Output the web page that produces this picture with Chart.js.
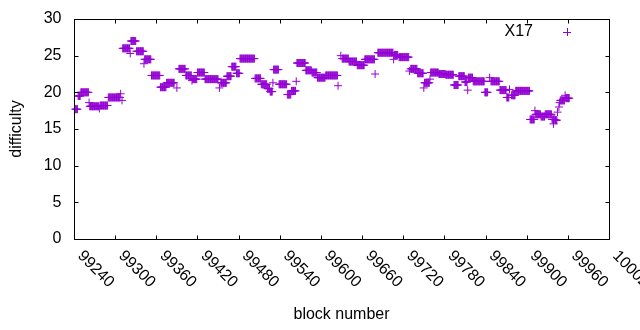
<!DOCTYPE html>
<html>
<head>
<meta charset="utf-8">
<script src="https://cdn.jsdelivr.net/npm/chart.js@4.4.1/dist/chart.umd.min.js"></script>
<style>
  html, body { margin: 0; padding: 0; background: #fff; }
  #wrap { width: 640px; height: 330px; }
</style>
</head>
<body>
<div id="wrap"><canvas id="diffChart"></canvas></div>
<script>
// Difficulty read off the plot as runs of blocks sharing the same value
// (start block, end block, difficulty); single blocks have start == end.
const runStart = [99242, 99246, 99250, 99262, 99263, 99277, 99278, 99290, 99308, 99310,
  99311, 99322, 99323, 99331, 99342, 99343, 99353, 99366, 99375, 99390,
  99393, 99403, 99412, 99413, 99420, 99431, 99452, 99454, 99463, 99470,
  99477, 99482, 99504, 99513, 99522, 99526, 99530, 99531, 99539, 99551,
  99557, 99564, 99565, 99578, 99587, 99595, 99607, 99625, 99629, 99631,
  99641, 99653, 99664, 99679, 99683, 99706, 99707, 99714, 99729, 99731,
  99741, 99750, 99751, 99759, 99760, 99772, 99782, 99794, 99801, 99810,
  99814, 99815, 99822, 99839, 99846, 99848, 99861, 99871, 99875, 99878,
  99884, 99905, 99912, 99913, 99921, 99927, 99937, 99939, 99942, 99945,
  99947, 99948, 99949, 99956, 99957];
const runEnd = [99245, 99249, 99261, 99262, 99276, 99277, 99289, 99307, 99308, 99310,
  99321, 99322, 99330, 99341, 99342, 99352, 99365, 99374, 99386, 99390,
  99402, 99411, 99412, 99419, 99430, 99450, 99452, 99462, 99469, 99476,
  99481, 99503, 99512, 99521, 99525, 99529, 99530, 99538, 99550, 99556,
  99563, 99564, 99577, 99586, 99594, 99606, 99624, 99625, 99629, 99640,
  99652, 99663, 99678, 99679, 99705, 99706, 99712, 99728, 99729, 99740,
  99749, 99750, 99758, 99759, 99771, 99781, 99793, 99800, 99809, 99813,
  99814, 99821, 99838, 99843, 99846, 99860, 99870, 99874, 99875, 99883,
  99904, 99911, 99912, 99920, 99926, 99936, 99941, 99939, 99944, 99945,
  99947, 99948, 99955, 99956, 99962];
const runDiff = [17.7, 19.5, 20.0, 18.6, 18.1, 17.8, 18.2, 19.3, 19.8, 18.9,
  26.0, 25.3, 27.0, 25.6, 23.9, 24.5, 22.3, 20.7, 21.3, 20.6,
  23.2, 22.3, 21.6, 21.8, 22.7, 21.8, 20.6, 21.3, 22.2, 23.5,
  22.6, 24.6, 21.9, 21.1, 20.5, 20.1, 21.3, 23.1, 21.1, 19.7,
  20.2, 21.5, 24.0, 23.0, 22.7, 22.0, 22.3, 20.9, 25.0, 24.6,
  24.2, 23.7, 24.5, 22.5, 25.4, 24.5, 25.1, 24.8, 22.9, 23.2,
  22.6, 20.6, 21.3, 21.8, 22.7, 22.5, 22.4, 21.0, 22.2, 21.4,
  20.3, 22.0, 21.5, 20.0, 22.0, 21.5, 20.3, 19.3, 20.4, 19.6,
  20.2, 16.3, 17.5, 17.0, 16.7, 17.0, 16.3, 15.7, 16.2, 17.3,
  18.0, 18.6, 18.9, 19.6, 19.2];

const seriesLabel = 'X17';
const xTicks = [99240, 99300, 99360, 99420, 99480, 99540, 99600, 99660, 99720, 99780, 99840, 99900, 99960, 100020];
const yTicks = [0, 5, 10, 15, 20, 25, 30];

const PURPLE = '#9400d3';
const FONT = '16px "Liberation Sans", Arial, sans-serif';

// one point per block inside each run
const points = [];
runStart.forEach((s, i) => {
  for (let b = s; b <= runEnd[i]; b++) points.push({ x: b, y: runDiff[i] });
});

// gnuplot-like frame: border, inward ticks on all sides, rotated labels, titles, key
const gnuplotFrame = {
  id: 'gnuplotFrame',
  afterDraw(chart) {
    const { ctx, chartArea: a, scales: { x, y } } = chart;
    const L = Math.round(a.left) + 0.5, R = Math.round(a.right) + 0.5;
    const T = Math.round(a.top) + 0.5, B = Math.round(a.bottom) + 0.5;
    ctx.save();
    ctx.strokeStyle = '#000';
    ctx.lineWidth = 1;
    ctx.beginPath();
    yTicks.forEach(v => {
      const py = Math.round(y.getPixelForValue(v)) + 0.5;
      ctx.moveTo(L, py); ctx.lineTo(L + 4, py);
      ctx.moveTo(R, py); ctx.lineTo(R - 4, py);
    });
    xTicks.forEach(v => {
      const px = Math.round(x.getPixelForValue(v)) + 0.5;
      ctx.moveTo(px, B); ctx.lineTo(px, B - 4);
      ctx.moveTo(px, T); ctx.lineTo(px, T + 4);
    });
    ctx.stroke();
    ctx.strokeRect(L, T, R - L, B - T);

    ctx.fillStyle = '#000';
    ctx.font = FONT;
    ctx.textAlign = 'right';
    ctx.textBaseline = 'middle';
    yTicks.forEach(v => ctx.fillText(String(v), L - 13, y.getPixelForValue(v)));

    ctx.textAlign = 'left';
    xTicks.forEach(v => {
      ctx.save();
      ctx.translate(x.getPixelForValue(v) + 6, B + 14);
      ctx.rotate(Math.PI / 4);
      ctx.fillText(String(v), 0, 0);
      ctx.restore();
    });

    ctx.textAlign = 'center';
    ctx.fillText('block number', (a.left + a.right) / 2, 315);
    ctx.save();
    ctx.translate(17, (a.top + a.bottom) / 2);
    ctx.rotate(-Math.PI / 2);
    ctx.fillText('difficulty', 0, 0);
    ctx.restore();

    // key
    ctx.textAlign = 'right';
    ctx.fillText(seriesLabel, 533, 32);
    ctx.strokeStyle = PURPLE;
    ctx.beginPath();
    ctx.moveTo(563, 32.5); ctx.lineTo(571, 32.5);
    ctx.moveTo(567.5, 28); ctx.lineTo(567.5, 36);
    ctx.stroke();
    ctx.restore();
  }
};

new Chart(document.getElementById('diffChart'), {
  type: 'scatter',
  data: {
    datasets: [{
      label: seriesLabel,
      data: points,
      pointStyle: 'cross',
      pointRadius: 4,
      pointHoverRadius: 4,
      borderWidth: 1,
      borderColor: PURPLE,
      backgroundColor: PURPLE,
      clip: false
    }]
  },
  options: {
    responsive: true,
    maintainAspectRatio: false,
    animation: false,
    events: [],
    layout: { padding: { left: 74, right: 31, top: 19, bottom: 91 } },
    plugins: {
      legend: { display: false },
      tooltip: { enabled: false }
    },
    scales: {
      x: { type: 'linear', min: 99240, max: 100020, display: false },
      y: { type: 'linear', min: 0, max: 30, display: false }
    }
  },
  plugins: [gnuplotFrame]
});
</script>
</body>
</html>
